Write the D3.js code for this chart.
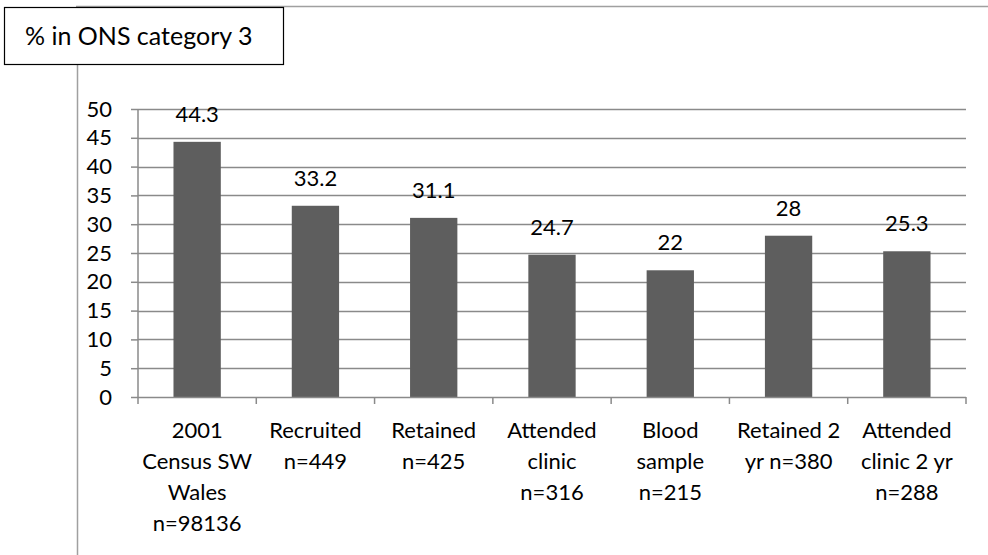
<!DOCTYPE html>
<html><head><meta charset="utf-8">
<script src="https://cdn.jsdelivr.net/npm/d3@7"></script>
<style>body{margin:0;background:#fff}svg{display:block}text{font-family:Lato,"Open Sans",sans-serif;fill:#000}</style>
</head><body><svg id="c" width="988" height="555"></svg>
<script>
const categories = ["2001 Census SW Wales n=98136","Recruited n=449","Retained n=425","Attended clinic n=316","Blood sample n=215","Retained 2 yr n=380","Attended clinic 2 yr n=288"];
const categoryLines = [["2001","Census SW","Wales","n=98136"],["Recruited","n=449"],["Retained","n=425"],["Attended","clinic","n=316"],["Blood","sample","n=215"],["Retained 2","yr n=380"],["Attended","clinic 2 yr","n=288"]];
const values = [44.3,33.2,31.1,24.7,22,28,25.3];
const yTicks = [0,5,10,15,20,25,30,35,40,45,50];
const title = "% in ONS category 3";

const svg = d3.select("#c");
const L=138, R=966, T=109, B=397;
const x = d3.scaleBand().domain(categories).range([L,R]).paddingInner(0.6).paddingOuter(0.3);
const y = d3.scaleLinear().domain([0,50]).range([B,T]);
const grey="#8a8a8a";

// outer frame lines
svg.append("line").attr("x1",76).attr("x2",988).attr("y1",6.5).attr("y2",6.5).attr("stroke","#a0a0a0").attr("stroke-width",1.5);
svg.append("line").attr("x1",77.5).attr("x2",77.5).attr("y1",6).attr("y2",555).attr("stroke","#a0a0a0").attr("stroke-width",1.5);

// gridlines
svg.append("g").selectAll("line").data(yTicks.filter(d=>d>0)).join("line")
  .attr("x1",L).attr("x2",R).attr("y1",d=>Math.round(y(d))+0.5).attr("y2",d=>Math.round(y(d))+0.5)
  .attr("stroke",grey).attr("stroke-width",1.5);

// y axis
const ya = svg.append("g").attr("transform",`translate(${L},0)`)
  .call(d3.axisLeft(y).tickValues(yTicks).tickSize(7).tickPadding(19).tickFormat(d3.format("d")));
ya.select(".domain").attr("stroke",grey).attr("stroke-width",1.5).attr("d",`M0,${T}V${B}`);
ya.selectAll(".tick line").attr("stroke",grey).attr("stroke-width",1.5);
ya.selectAll(".tick text").attr("font-size",22).attr("font-family","Lato").attr("fill","#000");

// bars
svg.append("g").selectAll("rect").data(values).join("rect")
  .attr("x",(d,i)=>x(categories[i])).attr("width",x.bandwidth())
  .attr("y",d=>y(d)).attr("height",d=>B-y(d)).attr("fill","#5e5e5e");

// value labels
svg.append("g").selectAll("text").data(values).join("text")
  .attr("x",(d,i)=>x(categories[i])+x.bandwidth()/2).attr("y",d=>y(d)-20)
  .attr("text-anchor","middle").attr("font-size",22).text(d=>d);

// x axis
const step = (R-L)/categories.length;
svg.append("line").attr("x1",L).attr("x2",R).attr("y1",B+0.5).attr("y2",B+0.5).attr("stroke",grey).attr("stroke-width",1.5);
svg.append("g").selectAll("line").data(d3.range(categories.length+1)).join("line")
  .attr("x1",i=>L+i*step).attr("x2",i=>L+i*step).attr("y1",B).attr("y2",B+7).attr("stroke",grey).attr("stroke-width",1.5);
const xl = svg.append("g").selectAll("text").data(categoryLines).join("text")
  .attr("text-anchor","middle").attr("font-size",22)
  .attr("transform",(d,i)=>`translate(${x(categories[i])+x.bandwidth()/2},0)`);
xl.selectAll("tspan").data(d=>d).join("tspan").attr("x",0).attr("y",(d,j)=>438+j*31).text(d=>d);

// title box
svg.append("rect").attr("x",4.5).attr("y",7.5).attr("width",279).attr("height",57).attr("fill","#fff").attr("stroke","#000").attr("stroke-width",1.2);
svg.append("text").attr("x",25).attr("y",45).attr("font-size",25).text(title);
</script></body></html>
